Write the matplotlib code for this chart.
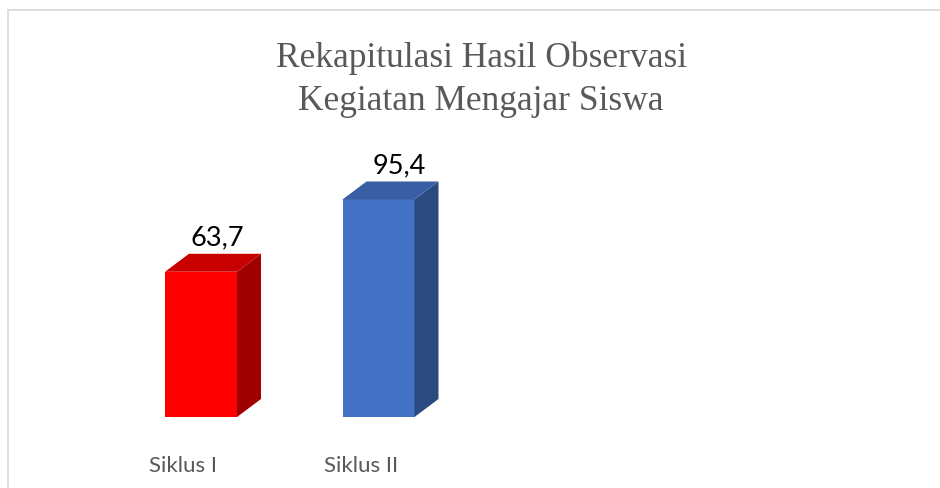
import matplotlib.pyplot as plt
from matplotlib.patches import Polygon
from matplotlib.lines import Line2D

categories = ["Siklus I", "Siklus II"]
values = [63.7, 95.4]
labels = ["63,7", "95,4"]

front = ["#FF0000", "#4472C4"]
side = ["#A00000", "#2B4A7F"]
top = ["#C80000", "#3A5EA3"]

W, H = 940, 489
fig = plt.figure(figsize=(W / 100, H / 100), dpi=100)

# chart frame (only top and left edges visible)
fig.add_artist(Line2D([8 / W, 1], [1 - 11 / H, 1 - 11 / H], color="#d9d9d9", lw=1.2))
fig.add_artist(Line2D([8 / W, 8 / W], [0, 1 - 11 / H], color="#d9d9d9", lw=1.2))

# axes: baseline at y=417 px, 100 units = 228 px
ax = fig.add_axes([0, 71 / H, 1, 228 / H])
px = 177.5  # px per category step
ax.set_xlim(-201 / px, (W - 201) / px)
ax.set_ylim(0, 100)
ax.axis("off")

bw = 72 / px
dx = 24 / px
dy = 18 / 2.28

for i, v in enumerate(values):
    x0 = i - bw / 2
    ax.add_patch(Polygon([(x0, 0), (x0 + bw, 0), (x0 + bw, v), (x0, v)],
                         closed=True, fc=front[i], ec="none", clip_on=False))
    ax.add_patch(Polygon([(x0 + bw, 0), (x0 + bw + dx, dy), (x0 + bw + dx, v + dy), (x0 + bw, v)],
                         closed=True, fc=side[i], ec="none", clip_on=False))
    ax.add_patch(Polygon([(x0, v), (x0 + bw, v), (x0 + bw + dx, v + dy), (x0 + dx, v + dy)],
                         closed=True, fc=top[i], ec="none", clip_on=False))
    ax.text(i + 0.09 + 0.03 * i, v + dy + 2, labels[i], ha="center", va="bottom",
            fontsize=19.5, family="Lato", color="black", clip_on=False)
    ax.text(i - 0.1, -16.5, categories[i], ha="center", va="top",
            fontsize=16, family="Lato", color="#595959", clip_on=False)

fig.text(481 / W, 1 - 58 / H, "Rekapitulasi Hasil Observasi", ha="center", va="center",
         fontsize=25.5, family="Liberation Serif", color="#595959")
fig.text(481 / W, 1 - 101 / H, "Kegiatan Mengajar Siswa", ha="center", va="center",
         fontsize=25.5, family="Liberation Serif", color="#595959")

fig.savefig("out.png", dpi=100, facecolor="white")
